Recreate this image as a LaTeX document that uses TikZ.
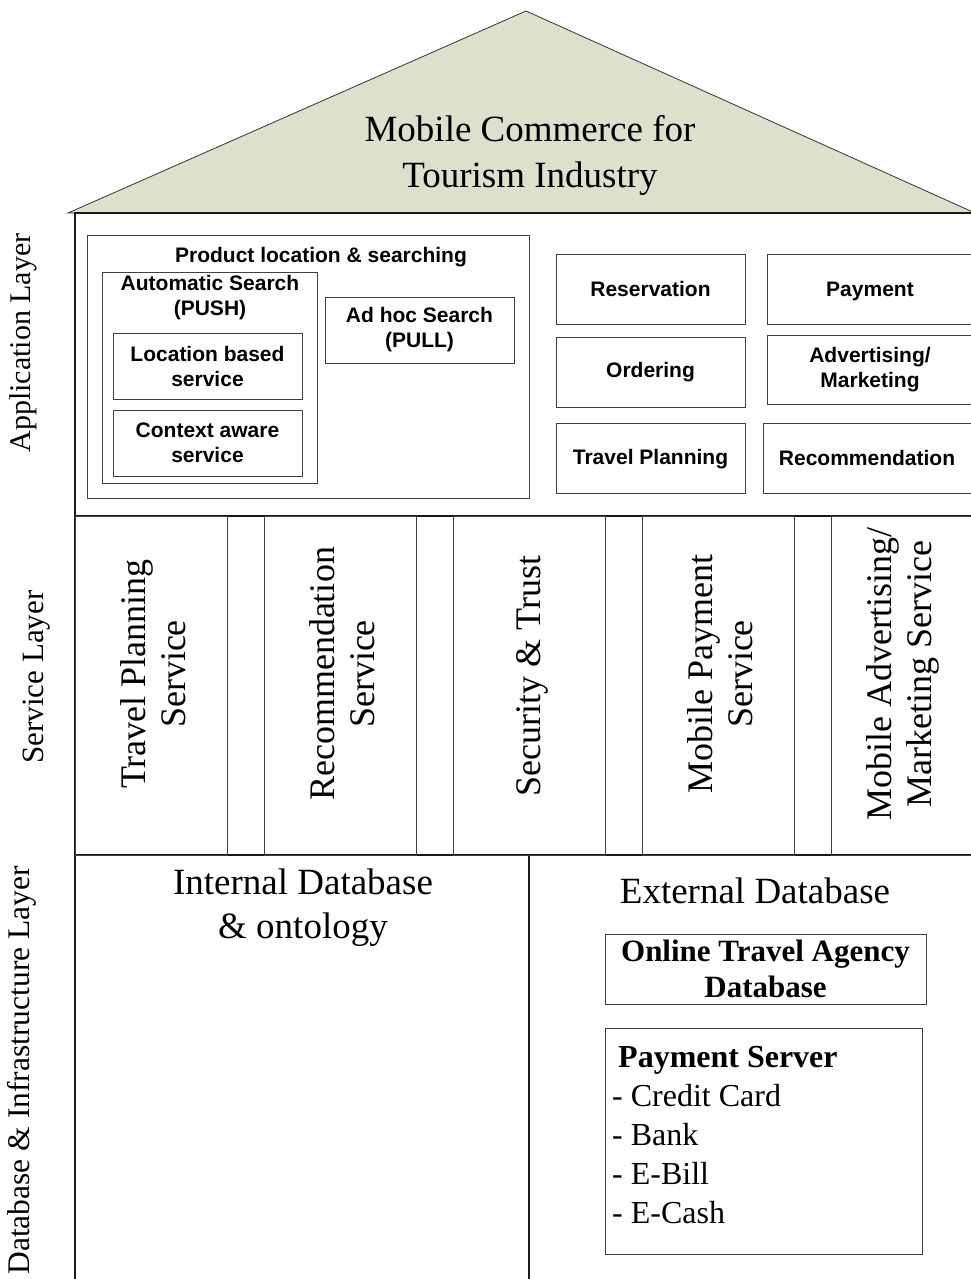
\documentclass[tikz,border=0pt]{standalone}
\usepackage{fontspec}
\setmainfont{Liberation Serif}
\setsansfont{Liberation Sans}
\definecolor{roofgreen}{RGB}{221,224,203}
\tikzset{
    roof/.style={fill=roofgreen, draw=black!80, line width=0.8pt},
    frame/.style={draw=black!90, line width=1.3pt},
    box/.style={draw=black!75, line width=1pt},
    apptext/.style={font=\fontsize{21}{25}\selectfont\sffamily\bfseries, align=center, inner sep=0pt},
    svctext/.style={font=\fontsize{36}{40}\selectfont, align=center, rotate=90, inner sep=0pt},
    layertext/.style={font=\fontsize{30}{34}\selectfont, rotate=90, inner sep=0pt},
    dbtext/.style={font=\fontsize{37}{44}\selectfont, align=center, inner sep=0pt},
    boldtext/.style={font=\fontsize{31}{36}\selectfont\bfseries, align=center, inner sep=0pt},
}
\begin{document}
\begin{tikzpicture}[x=1pt, y=-1pt]
        \useasboundingbox (0,0) rectangle (971,1279);
        \clip (0,0) rectangle (971,1279);

        % Roof
        \draw[roof] (68,213) -- (526,11) -- (975,213) -- cycle;
        \node[font=\fontsize{37}{46}\selectfont, align=center] (title) at (530,155) {Mobile Commerce for\\Tourism Industry};

        % Building
        \draw[frame] (75,213) rectangle (1000,1300);
        \draw[frame] (75,516) -- (1000,516);
        \draw[frame] (75,855) -- (1000,855);
        \draw[frame] (529,855) -- (529,1300);

        % Layer names
        \node[layertext] (applayer) at (23,343) {Application Layer};
        \node[layertext, font=\fontsize{31}{34}\selectfont] (svclayer) at (37,677) {Service Layer};
        \node[layertext, font=\fontsize{31.5}{34}\selectfont, anchor=east] (dblayer) at (22,866) {Database \& Infrastructure Layer};

        % Application layer
        \draw[box] (87,235) rectangle (529,498);
        \node[apptext] (prodloc) at (321,257) {Product location \& searching};
        \draw[box] (102,272) rectangle (317,483);
        \node[apptext] (autosearch) at (210,298) {Automatic Search\\(PUSH)};
        \draw[box] (113,333) rectangle (302,399);
        \node[apptext] (locbased) at (207.5,366) {Location based\\service};
        \draw[box] (113,410) rectangle (302,476);
        \node[apptext] (ctxaware) at (207.5,443) {Context aware\\service};
        \draw[box] (325,297) rectangle (514,363);
        \node[apptext] (adhoc) at (419.5,330) {Ad hoc Search\\(PULL)};

        \draw[box] (556,254) rectangle (745,324);
        \node[apptext] (resv) at (650.5,289) {Reservation};
        \draw[box] (767,254) rectangle (973,324);
        \node[apptext] (payment) at (870,291) {Payment};
        \draw[box] (556,337) rectangle (745,407);
        \node[apptext] (ordering) at (650.5,372) {Ordering};
        \draw[box] (767,335) rectangle (973,404);
        \node[apptext] (advert) at (870,369.5) {Advertising/\\Marketing};
        \draw[box] (556,423) rectangle (745,493);
        \node[apptext] (travelplan) at (650.5,459) {Travel Planning};
        \draw[box] (763,423) rectangle (971,493);
        \node[apptext] (recomm) at (867,458) {Recommendation};

        % Service layer
        \draw[box] (75,516) rectangle (227,855);
        \node[svctext] (tpservice) at (153,674) {Travel Planning\\Service};
        \draw[box] (264,516) rectangle (416,855);
        \node[svctext] (recservice) at (342,674) {Recommendation\\Service};
        \draw[box] (453,516) rectangle (605,855);
        \node[svctext] (security) at (532,676) {Security \& Trust};
        \draw[box] (642,516) rectangle (794,855);
        \node[svctext] (mpservice) at (720,674) {Mobile Payment\\Service};
        \draw[box] (831,516) rectangle (983,855);
        \node[svctext] (maservice) at (903,674) {Mobile Advertising/\\Marketing Service};

        % Database & infrastructure layer
        \node[dbtext] (internal) at (303,908) {Internal Database\\\& ontology};
        \node[dbtext] (external) at (755,891) {External Database};

        \draw[box] (605,934) rectangle (926,1004);
        \node[boldtext] (ota) at (765.5,969) {Online Travel Agency\\Database};

        \draw[box] (605,1028) rectangle (922,1254);
        \node[font=\fontsize{32}{39}\selectfont, align=left, inner sep=0pt, anchor=north west] (payserver) at (612,1046)
            {\hspace{6pt}\textbf{Payment Server}\\- Credit Card\\- Bank\\- E-Bill\\- E-Cash};
\end{tikzpicture}
\end{document}
